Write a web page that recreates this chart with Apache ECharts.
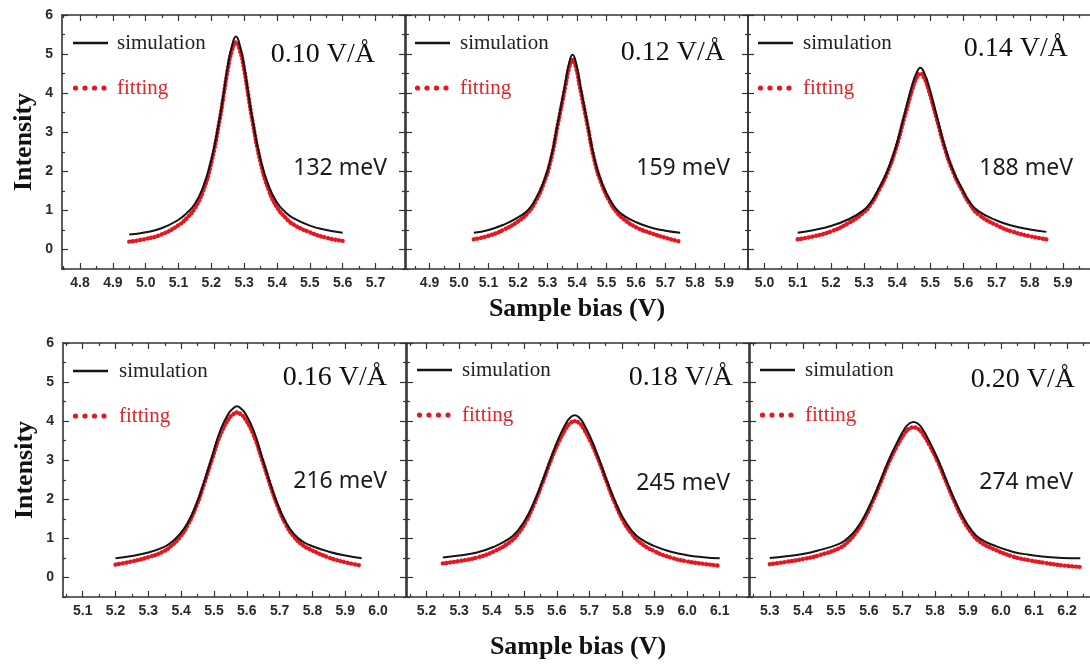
<!DOCTYPE html>
<html>
<head>
<meta charset="utf-8">
<script src="https://cdn.jsdelivr.net/npm/echarts@6/dist/echarts.min.js"></script>
<style>
  html, body { margin: 0; padding: 0; background: #ffffff; }
  #chart { width: 1090px; height: 664px; }
</style>
</head>
<body>
<div id="chart"></div>
<script>
// Sample bias (V) along each resonance, with simulated and fitted intensity.
const bias010 = [4.95, 5.0, 5.05, 5.1, 5.125, 5.15, 5.175, 5.2, 5.225, 5.2375, 5.25, 5.2625, 5.275, 5.2875, 5.3, 5.3125, 5.325, 5.35, 5.375, 5.4, 5.425, 5.45, 5.5, 5.55, 5.6];
const sim010  = [0.38, 0.44, 0.55, 0.76, 0.93, 1.17, 1.6, 2.3, 3.35, 4.0, 4.7, 5.2, 5.45, 5.2, 4.7, 4.0, 3.35, 2.3, 1.62, 1.2, 0.96, 0.8, 0.61, 0.5, 0.43];
const fit010  = [0.2, 0.27, 0.39, 0.62, 0.8, 1.06, 1.5, 2.22, 3.3, 3.95, 4.6, 5.08, 5.3, 5.08, 4.6, 3.95, 3.3, 2.22, 1.52, 1.08, 0.82, 0.64, 0.44, 0.3, 0.22];

const bias012 = [5.05, 5.1, 5.15, 5.2, 5.235, 5.26, 5.285, 5.31, 5.335, 5.36, 5.3725, 5.385, 5.3975, 5.41, 5.435, 5.46, 5.485, 5.51, 5.535, 5.56, 5.6, 5.65, 5.7, 5.75];
const sim012  = [0.43, 0.5, 0.63, 0.82, 1.02, 1.3, 1.7, 2.3, 3.25, 4.25, 4.75, 4.98, 4.75, 4.25, 3.25, 2.3, 1.7, 1.3, 1.02, 0.86, 0.7, 0.56, 0.48, 0.43];
const fit012  = [0.26, 0.35, 0.5, 0.72, 0.95, 1.24, 1.65, 2.25, 3.2, 4.15, 4.62, 4.85, 4.62, 4.15, 3.2, 2.25, 1.65, 1.24, 0.95, 0.77, 0.57, 0.42, 0.3, 0.2];

const bias014 = [5.1, 5.15, 5.2, 5.25, 5.295, 5.32, 5.345, 5.37, 5.395, 5.42, 5.445, 5.4575, 5.47, 5.4825, 5.495, 5.52, 5.545, 5.57, 5.595, 5.62, 5.645, 5.7, 5.75, 5.8, 5.85];
const sim014  = [0.43, 0.5, 0.6, 0.76, 0.98, 1.2, 1.57, 2.0, 2.6, 3.4, 4.2, 4.5, 4.65, 4.5, 4.2, 3.4, 2.6, 2.0, 1.57, 1.2, 0.98, 0.74, 0.6, 0.51, 0.45];
const fit014  = [0.26, 0.34, 0.46, 0.66, 0.92, 1.15, 1.52, 1.96, 2.55, 3.32, 4.08, 4.37, 4.5, 4.37, 4.08, 3.32, 2.55, 1.96, 1.52, 1.15, 0.9, 0.62, 0.45, 0.34, 0.26];

const bias016 = [5.2, 5.25, 5.3, 5.345, 5.37, 5.395, 5.42, 5.445, 5.47, 5.495, 5.52, 5.545, 5.5575, 5.57, 5.5825, 5.595, 5.62, 5.645, 5.67, 5.695, 5.72, 5.745, 5.77, 5.8, 5.85, 5.9, 5.95];
const sim016  = [0.49, 0.55, 0.64, 0.77, 0.9, 1.1, 1.4, 1.85, 2.45, 3.12, 3.78, 4.2, 4.32, 4.38, 4.32, 4.2, 3.78, 3.12, 2.45, 1.85, 1.4, 1.1, 0.92, 0.8, 0.66, 0.56, 0.49];
const fit016  = [0.33, 0.41, 0.52, 0.66, 0.81, 1.02, 1.34, 1.8, 2.4, 3.05, 3.66, 4.06, 4.17, 4.22, 4.17, 4.06, 3.66, 3.05, 2.4, 1.8, 1.34, 1.03, 0.83, 0.69, 0.51, 0.39, 0.3];

const bias018 = [5.25, 5.3, 5.355, 5.405, 5.455, 5.48, 5.505, 5.53, 5.555, 5.58, 5.605, 5.63, 5.6425, 5.655, 5.6675, 5.68, 5.705, 5.73, 5.755, 5.78, 5.805, 5.83, 5.855, 5.9, 5.95, 6.0, 6.05, 6.1];
const sim018  = [0.51, 0.56, 0.64, 0.78, 1.0, 1.2, 1.5, 1.93, 2.45, 3.02, 3.55, 3.97, 4.1, 4.15, 4.1, 3.97, 3.55, 3.02, 2.45, 1.93, 1.5, 1.2, 1.0, 0.8, 0.66, 0.57, 0.52, 0.49];
const fit018  = [0.36, 0.42, 0.51, 0.66, 0.9, 1.11, 1.43, 1.87, 2.4, 2.96, 3.45, 3.84, 3.96, 4.0, 3.96, 3.84, 3.45, 2.96, 2.4, 1.87, 1.43, 1.12, 0.9, 0.67, 0.51, 0.41, 0.35, 0.3];

const bias020 = [5.3, 5.35, 5.4, 5.45, 5.51, 5.535, 5.56, 5.585, 5.61, 5.635, 5.66, 5.685, 5.71, 5.7225, 5.735, 5.7475, 5.76, 5.785, 5.81, 5.835, 5.86, 5.885, 5.91, 5.935, 5.985, 6.035, 6.085, 6.135, 6.185, 6.24];
const sim020  = [0.5, 0.54, 0.6, 0.7, 0.86, 1.0, 1.22, 1.55, 1.98, 2.48, 3.0, 3.45, 3.83, 3.94, 3.98, 3.94, 3.83, 3.45, 3.0, 2.48, 1.98, 1.55, 1.22, 1.0, 0.8, 0.66, 0.58, 0.53, 0.5, 0.49];
const fit020  = [0.34, 0.4, 0.47, 0.57, 0.75, 0.9, 1.14, 1.48, 1.92, 2.42, 2.93, 3.36, 3.71, 3.81, 3.84, 3.81, 3.71, 3.36, 2.93, 2.42, 1.92, 1.48, 1.15, 0.92, 0.7, 0.54, 0.44, 0.37, 0.31, 0.27];

// Panel annotations: applied field and resonance width.
const fieldLabels = ['0.10 V/Å', '0.12 V/Å', '0.14 V/Å', '0.16 V/Å', '0.18 V/Å', '0.20 V/Å'];
const widthLabels = ['132 meV', '159 meV', '188 meV', '216 meV', '245 meV', '274 meV'];

// Labelled bias ticks per panel, and intensity ticks.
const xTicks010 = [4.8, 4.9, 5.0, 5.1, 5.2, 5.3, 5.4, 5.5, 5.6, 5.7];
const xTicks012 = [4.9, 5.0, 5.1, 5.2, 5.3, 5.4, 5.5, 5.6, 5.7, 5.8, 5.9];
const xTicks014 = [5.0, 5.1, 5.2, 5.3, 5.4, 5.5, 5.6, 5.7, 5.8, 5.9];
const xTicks016 = [5.1, 5.2, 5.3, 5.4, 5.5, 5.6, 5.7, 5.8, 5.9, 6.0];
const xTicks018 = [5.2, 5.3, 5.4, 5.5, 5.6, 5.7, 5.8, 5.9, 6.0, 6.1];
const xTicks020 = [5.3, 5.4, 5.5, 5.6, 5.7, 5.8, 5.9, 6.0, 6.1, 6.2];
const yTicks = [0, 1, 2, 3, 4, 5, 6];

const seriesNames = ['simulation', 'fitting'];
const axisTitleX = 'Sample bias (V)';
const axisTitleY = 'Intensity';

// Layout of the six frames (pixels) and their bias windows.
// The right-hand column runs past the page edge, so its outer border is not drawn.
const panels = [
  { bias: bias010, sim: sim010, fit: fit010, ticks: xTicks010, left: 62,  top: 15,  width: 343, min: 4.745, max: 5.79,
    legend: [73, 43, 117], field: [375, 55], fwhm: [387, 168], yLabels: true, xTitleGap: 0 },
  { bias: bias012, sim: sim012, fit: fit012, ticks: xTicks012, left: 406, top: 15,  width: 342, min: 4.82, max: 5.98,
    legend: [415, 43, 460], field: [725, 53], fwhm: [730, 168], yLabels: false, xTitleGap: 27 },
  { bias: bias014, sim: sim014, fit: fit014, ticks: xTicks014, left: 748, top: 15,  width: 362, min: 4.95, max: 6.042,
    legend: [758, 43, 803], field: [1068, 49], fwhm: [1073, 168], yLabels: false, xTitleGap: 0 },
  { bias: bias016, sim: sim016, fit: fit016, ticks: xTicks016, left: 63,  top: 343, width: 343, min: 5.04, max: 6.085,
    legend: [73, 371, 119], field: [387, 378], fwhm: [387, 481], yLabels: true, xTitleGap: 0 },
  { bias: bias018, sim: sim018, fit: fit018, ticks: xTicks018, left: 407, top: 343, width: 342, min: 5.14, max: 6.19,
    legend: [417, 370, 462], field: [733, 378], fwhm: [730, 483], yLabels: false, xTitleGap: 37 },
  { bias: bias020, sim: sim020, fit: fit020, ticks: xTicks020, left: 750, top: 343, width: 362, min: 5.24, max: 6.336,
    legend: [760, 370, 805], field: [1075, 380], fwhm: [1073, 482], yLabels: false, xTitleGap: 0 }
];

const FRAME = '#333333';
const BLACK = '#141414';
const RED = '#e8161e';
const SERIF = '"Liberation Serif", "Times New Roman", serif';
const SANS = '"Liberation Sans", Arial, sans-serif';
const PLOT_H = 254;

// half-step tick positions between the labelled ticks, kept inside the frame
function minorOf(ticks, lo, hi) {
  const out = [];
  const first = Math.round((ticks[0] - 0.05) * 1000) / 1000;
  if (first > lo) out.push(first);
  ticks.forEach(t => {
    const m = Math.round((t + 0.05) * 1000) / 1000;
    if (m < hi) out.push(m);
  });
  return out;
}

const yMinor = [-0.5, 0.5, 1.5, 2.5, 3.5, 4.5, 5.5];

const grid = [], xAxis = [], yAxis = [], series = [], graphic = [];

panels.forEach((p, gi) => {
  // fixed pixel frames: no automatic shrinking to keep labels on the page
  grid.push({ left: p.left, top: p.top, width: p.width, height: PLOT_H, containLabel: false, outerBoundsMode: 'none' });

  const xMinor = minorOf(p.ticks, p.min, p.max);
  const tickStyle = { color: FRAME, width: 1.2 };

  // bottom axis with labels (main axis for the series)
  const mainX = xAxis.length;
  xAxis.push({
    type: 'value', gridIndex: gi, position: 'bottom', min: p.min, max: p.max,
    axisLine: { show: true, onZero: false, lineStyle: { color: FRAME, width: 1.6 } },
    axisTick: { show: true, inside: true, length: 6, customValues: p.ticks, lineStyle: tickStyle },
    axisLabel: { show: true, customValues: p.ticks, margin: 7, color: '#2a2a2a',
      fontFamily: SANS, fontWeight: 'bold', fontSize: 14, formatter: v => Number(v).toFixed(1) },
    splitLine: { show: false },
    name: p.xTitleGap ? axisTitleX : '', nameLocation: 'middle', nameGap: p.xTitleGap,
    nameTextStyle: { fontFamily: SERIF, fontWeight: 'bold', fontSize: 26, color: '#111', verticalAlign: 'top' }
  });
  // bottom minor ticks
  xAxis.push({
    type: 'value', gridIndex: gi, position: 'bottom', min: p.min, max: p.max,
    axisLine: { show: false, onZero: false },
    axisTick: { show: true, inside: true, length: 3, customValues: xMinor, lineStyle: tickStyle },
    axisLabel: { show: false }, splitLine: { show: false }
  });
  // top mirror axis
  xAxis.push({
    type: 'value', gridIndex: gi, position: 'top', min: p.min, max: p.max,
    axisLine: { show: true, onZero: false, lineStyle: { color: FRAME, width: 1.6 } },
    axisTick: { show: true, inside: true, length: 6, customValues: p.ticks, lineStyle: tickStyle },
    axisLabel: { show: false }, splitLine: { show: false }
  });
  xAxis.push({
    type: 'value', gridIndex: gi, position: 'top', min: p.min, max: p.max,
    axisLine: { show: false, onZero: false },
    axisTick: { show: true, inside: true, length: 3, customValues: xMinor, lineStyle: tickStyle },
    axisLabel: { show: false }, splitLine: { show: false }
  });

  const mainY = yAxis.length;
  yAxis.push({
    type: 'value', gridIndex: gi, position: 'left', min: -0.5, max: 6,
    axisLine: { show: true, onZero: false, lineStyle: { color: FRAME, width: 1.6 } },
    axisTick: { show: true, inside: true, length: 6, customValues: yTicks, lineStyle: tickStyle },
    axisLabel: { show: p.yLabels, customValues: yTicks, margin: 9, color: '#2a2a2a',
      fontFamily: SANS, fontWeight: 'bold', fontSize: 14, formatter: v => String(v) },
    splitLine: { show: false },
    name: p.yLabels ? axisTitleY : '', nameLocation: 'middle', nameGap: 25, nameRotate: 90,
    nameTextStyle: { fontFamily: SERIF, fontWeight: 'bold', fontSize: 26, color: '#111' }
  });
  yAxis.push({
    type: 'value', gridIndex: gi, position: 'left', min: -0.5, max: 6,
    axisLine: { show: false, onZero: false },
    axisTick: { show: true, inside: true, length: 3, customValues: yMinor, lineStyle: tickStyle },
    axisLabel: { show: false }, splitLine: { show: false }
  });
  yAxis.push({
    type: 'value', gridIndex: gi, position: 'right', min: -0.5, max: 6,
    axisLine: { show: true, onZero: false, lineStyle: { color: FRAME, width: 1.6 } },
    axisTick: { show: true, inside: true, length: 6, customValues: yTicks, lineStyle: tickStyle },
    axisLabel: { show: false }, splitLine: { show: false }
  });
  yAxis.push({
    type: 'value', gridIndex: gi, position: 'right', min: -0.5, max: 6,
    axisLine: { show: false, onZero: false },
    axisTick: { show: true, inside: true, length: 3, customValues: yMinor, lineStyle: tickStyle },
    axisLabel: { show: false }, splitLine: { show: false }
  });

  // fitted curve: dense red dots
  series.push({
    name: seriesNames[1], type: 'line', xAxisIndex: mainX, yAxisIndex: mainY,
    data: p.bias.map((x, i) => [x, p.fit[i]]),
    smooth: 0.5, showSymbol: false, symbol: 'none', z: 2,
    lineStyle: { color: RED, width: 4.4, type: [0.1, 3.6], cap: 'round' }
  });
  // simulated curve
  series.push({
    name: seriesNames[0], type: 'line', xAxisIndex: mainX, yAxisIndex: mainY,
    data: p.bias.map((x, i) => [x, p.sim[i]]),
    smooth: 0.5, showSymbol: false, symbol: 'none', z: 3,
    lineStyle: { color: BLACK, width: 2 }
  });

  // key: solid line for simulation, four dots for fitting
  const [lx, ly, tx] = p.legend;
  graphic.push({ type: 'line', shape: { x1: lx, y1: ly, x2: lx + 35, y2: ly }, style: { stroke: BLACK, lineWidth: 2.5 } });
  graphic.push({ type: 'text', x: tx, y: ly,
    style: { text: seriesNames[0], font: '21px ' + SERIF, fill: '#222', align: 'left', verticalAlign: 'middle', textAlign: 'left', textVerticalAlign: 'middle' } });
  [2.5, 12, 21.5, 31].forEach(dx => {
    graphic.push({ type: 'circle', shape: { cx: lx + dx, cy: ly + 45, r: 2.6 }, style: { fill: RED } });
  });
  graphic.push({ type: 'text', x: tx, y: ly + 45,
    style: { text: seriesNames[1], font: '21px ' + SERIF, fill: '#e2262c', align: 'left', verticalAlign: 'middle', textAlign: 'left', textVerticalAlign: 'middle' } });

  graphic.push({ type: 'text', x: p.field[0], y: p.field[1],
    style: { text: fieldLabels[gi], font: '28px ' + SERIF, fill: '#111', align: 'right', verticalAlign: 'middle', textAlign: 'right', textVerticalAlign: 'middle' } });
  graphic.push({ type: 'text', x: p.fwhm[0], y: p.fwhm[1],
    style: { text: widthLabels[gi], font: '23px "Noto Sans", "Open Sans", sans-serif', fill: '#1c1c1c', align: 'right', verticalAlign: 'middle', textAlign: 'right', textVerticalAlign: 'middle' } });
});

const chart = echarts.init(document.getElementById('chart'), null, { renderer: 'canvas' });
chart.setOption({
  backgroundColor: '#ffffff',
  animation: false,
  grid, xAxis, yAxis, series,
  graphic: { elements: graphic }
});
</script>
</body>
</html>
